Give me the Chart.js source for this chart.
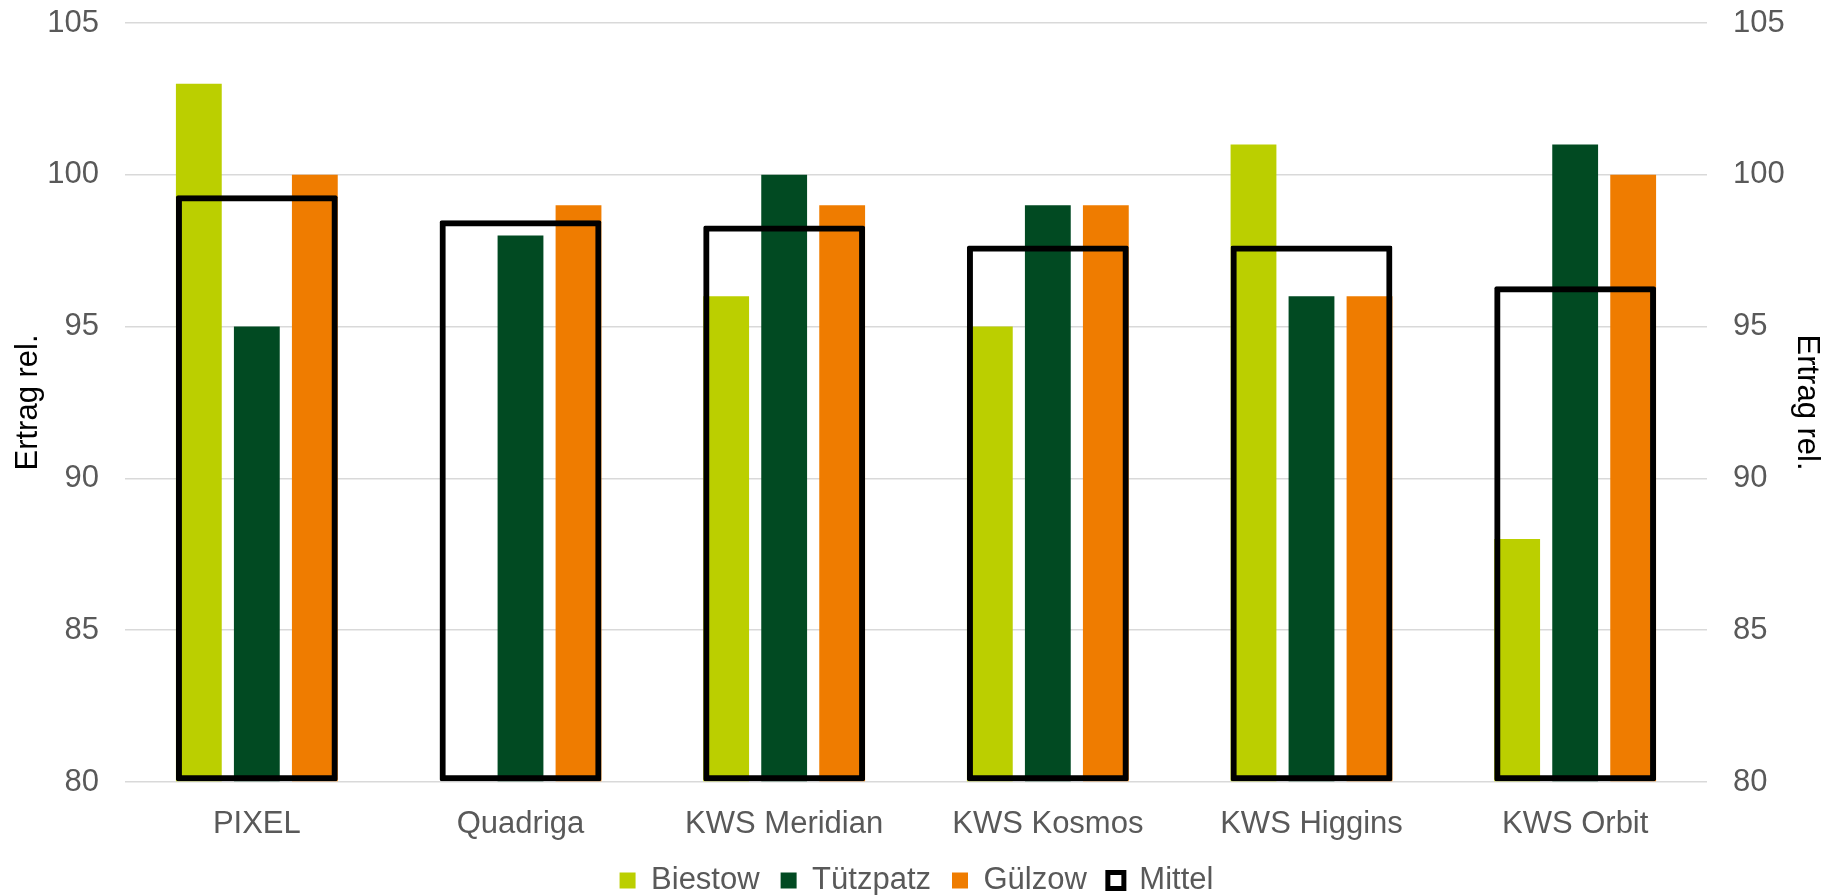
<!DOCTYPE html>
<html>
<head>
<meta charset="utf-8">
<script src="https://cdn.jsdelivr.net/npm/chart.js@4.4.1/dist/chart.umd.min.js"></script>
<style>
    html, body { margin: 0; padding: 0; background: #fff; }
    #wrap { width: 1833px; height: 895px; position: relative; }
</style>
</head>
<body>
<div id="wrap"><canvas id="ertragChart"></canvas></div>
<script>
// data
var sorten = ['PIXEL', 'Quadriga', 'KWS Meridian', 'KWS Kosmos', 'KWS Higgins', 'KWS Orbit'];
var biestow = [103, null, 96, 95, 101, 88];
var tuetzpatz = [95, 98, 100, 99, 96, 101];
var guelzow = [100, 99, 99, 99, 96, 100];
var mittel = [99.33, 98.5, 98.33, 97.67, 97.67, 96.33];
var yTicks = [80, 85, 90, 95, 100, 105];

const tickFont = { family: 'Liberation Sans, Arial, sans-serif', size: 31 };
const grey = '#595959';

const makeBars = (label, arr, color) => {
    return {
        label: label,
        data: arr,
        backgroundColor: color,
        borderWidth: 0,
        base: 80,
        categoryPercentage: 0.66,
        barPercentage: 0.79,
        order: 1
    };
}

const yAxis = (pos) => {
    return {
        position: pos,
        min: 80,
        max: 105,
        afterBuildTicks: (axis) => { axis.ticks = yTicks.map(v => ({ value: v })); },
        ticks: { color: grey, font: tickFont, padding: 26 },
        grid: { display: pos === 'left', color: '#d9d9d9', lineWidth: 1.5, drawTicks: false },
        border: { display: false },
        title: {
            display: true,
            text: 'Ertrag rel.',
            color: '#000',
            font: tickFont,
            padding: { top: pos === 'left' ? 10 : 8, bottom: 0 }
        },
        afterFit: (axis) => {
            axis.width = pos === 'left' ? 125 : 126;
            // plot top sits at the 105 line, y=23
            axis.paddingTop = 23;
            axis.paddingBottom = 0;
        }
    };
}

function initChart() {
    var ctx = document.getElementById('ertragChart').getContext('2d');

    var data = {
        labels: sorten,
        datasets: [
            makeBars('Biestow', biestow, '#bbcf00'),
            makeBars('Tützpatz', tuetzpatz, '#014a22'),
            makeBars('Gülzow', guelzow, '#ef7c00'),
            {
                // same x axis, kept out of the grouping so it spans the whole group
                label: 'Mittel',
                data: mittel,
                grouped: false,
                backgroundColor: 'rgba(255,255,255,0)',
                borderColor: '#000',
                borderWidth: 6,
                borderSkipped: false,
                borderRadius: 2,
                base: 80,
                categoryPercentage: 0.66,
                barPercentage: 0.93,
                order: 0
            }
        ]
    };

    var options = {
        responsive: true,
        maintainAspectRatio: false,
        animation: false,
        layout: { padding: { top: 0, left: 0, right: 0, bottom: -11 } },
        plugins: {
            tooltip: { enabled: false },
            legend: {
                position: 'bottom',
                labels: {
                    color: grey,
                    font: tickFont,
                    boxWidth: 16,
                    boxHeight: 16,
                    padding: 21,
                    sort: (a, b) => a.datasetIndex - b.datasetIndex,
                    generateLabels: (chart) => {
                        var items = Chart.defaults.plugins.legend.labels.generateLabels(chart);
                        items.forEach(it => { if (it.text === 'Mittel') { it.lineWidth = 5; it.fillStyle = '#fff'; } });
                        return items;
                    }
                }
            }
        },
        scales: {
            x: {
                ticks: { color: grey, font: tickFont, padding: 16 },
                grid: { display: false },
                border: { display: false },
                afterFit: (axis) => { axis.height = 62; }
            },
            y: yAxis('left'),
            y2: yAxis('right')
        }
    };

    new Chart(ctx, { type: 'bar', data: data, options: options });
}

initChart();
</script>
</body>
</html>
